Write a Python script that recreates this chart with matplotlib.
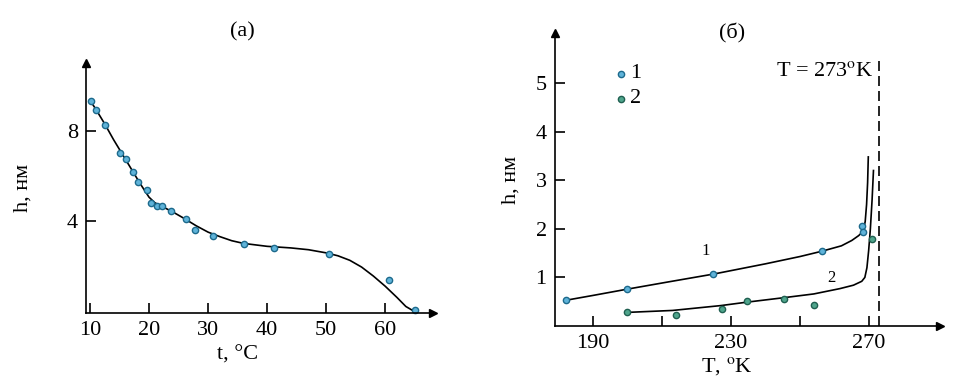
#!/usr/bin/env python3
"""Two panels: film thickness h vs temperature, (a) in deg C and (б) in deg K."""

import matplotlib

matplotlib.use("Agg")
import matplotlib.pyplot as plt

# panel (a): measured points
t_pts = [10.1, 11.0, 12.5, 15.1, 16.1, 17.2, 18.1, 19.6, 20.3, 21.3, 22.2, 23.7,
         26.3, 27.8, 30.9, 36.0, 41.2, 50.4, 60.7, 65.0]
h_pts = [9.30, 8.90, 8.24, 7.00, 6.76, 6.19, 5.72, 5.35, 4.81, 4.64, 4.67, 4.46,
         4.07, 3.60, 3.33, 2.99, 2.81, 2.52, 1.38, 0.04]

# panel (a): fitted curve
t_fit = [10.0, 11.0, 12.5, 14.0, 15.5, 17.0, 18.5, 20.0, 21.0, 22.5, 24.0, 26.0,
         28.0, 30.0, 32.0, 34.0, 36.0, 40.0, 44.0, 47.0, 50.0, 52.0, 54.0, 56.0,
         58.0, 60.0, 62.0, 63.5, 64.8]
h_fit = [9.35, 8.95, 8.30, 7.60, 6.95, 6.30, 5.65, 5.05, 4.80, 4.60, 4.40, 4.10,
         3.78, 3.50, 3.30, 3.12, 3.00, 2.87, 2.80, 2.72, 2.58, 2.45, 2.25, 1.95,
         1.55, 1.10, 0.60, 0.20, 0.00]

# panel (б): series 1 and 2 points
T1_pts = [182.1, 199.9, 224.8, 256.4, 268.1, 268.3]
h1_pts = [0.53, 0.755, 1.07, 1.54, 2.05, 1.94]
T2_pts = [199.9, 213.9, 227.4, 234.5, 245.3, 254.1, 270.9]
h2_pts = [0.28, 0.23, 0.36, 0.51, 0.56, 0.43, 1.79]

# panel (б): fitted curves
T1_fit = [182.1, 190.0, 200.0, 212.0, 225.0, 240.0, 250.0, 256.4, 262.0, 265.0,
          267.0, 268.3, 268.9, 269.3, 269.6, 269.8]
h1_fit = [0.53, 0.63, 0.76, 0.91, 1.07, 1.28, 1.43, 1.54, 1.65, 1.76,
          1.86, 1.95, 2.15, 2.50, 2.95, 3.48]
T2_fit = [199.9, 213.0, 227.0, 234.5, 245.0, 254.0, 261.6, 265.5, 267.9, 268.8,
          269.4, 269.9, 270.4, 270.9, 271.3]
h2_fit = [0.28, 0.32, 0.42, 0.49, 0.58, 0.66, 0.77, 0.84, 0.92, 1.00,
          1.20, 1.55, 2.00, 2.60, 3.20]

T_melt = 273

SERIF = ["Liberation Serif", "DejaVu Serif"]
FS = 16
C1_FACE, C1_EDGE = "#5fb3d9", "#1d6a8c"
C2_FACE, C2_EDGE = "#4fa58c", "#1f5f50"

plt.rcParams["font.family"] = SERIF
plt.rcParams["font.size"] = FS
plt.rcParams["mathtext.fontset"] = "stix"


def style_axes(ax):
    for side in ("top", "right"):
        ax.spines[side].set_visible(False)
    for side in ("left", "bottom"):
        ax.spines[side].set_linewidth(1.2)
    ax.tick_params(direction="in", length=7, width=1.2, pad=6, labelsize=FS)
    ax.tick_params(which="minor", direction="in", length=7, width=1.2)
    # arrow heads at the ends of the axes
    ax.plot(1, 0, ">k", ms=6, transform=ax.transAxes, clip_on=False)
    ax.plot(0, 1, "^k", ms=6, transform=ax.transAxes, clip_on=False)


fig = plt.figure(figsize=(9.75, 3.82), dpi=100)

# (a)
ax1 = fig.add_axes([0.0887, 0.1806, 0.3554, 0.654])
ax1.plot(t_fit, h_fit, color="black", lw=1.2)
ax1.plot(t_pts, h_pts, "o", ms=4.5, mfc=C1_FACE, mec=C1_EDGE, mew=1.0, clip_on=False)
ax1.set_xlim(9.4, 68.1)
ax1.set_ylim(-0.09, 11.0)
ax1.set_xticks([10, 20, 30, 40, 50, 60])
ax1.set_yticks([4, 8])
style_axes(ax1)
ax1.set_xlabel("t, °C")
ax1.xaxis.set_label_coords(0.437, -0.13)
ax1.set_ylabel("h, нм")
ax1.yaxis.set_label_coords(-0.155, 0.5)
fig.text(242 / 975, 1 - 32 / 382, "(а)", ha="center", va="center", fontsize=FS)

# (б)
ax2 = fig.add_axes([0.5692, 0.1466, 0.3949, 0.767])
ax2.plot(T1_fit, h1_fit, color="black", lw=1.2)
ax2.plot(T2_fit, h2_fit, color="black", lw=1.2)
ax2.plot(T1_pts, h1_pts, "o", ms=4.5, mfc=C1_FACE, mec=C1_EDGE, mew=1.0)
ax2.plot(T2_pts, h2_pts, "o", ms=4.5, mfc=C2_FACE, mec=C2_EDGE, mew=1.0)
ax2.plot([T_melt, T_melt], [0, 5.47], color="black", lw=1.2, ls=(0, (6, 3)))
ax2.text(271.3, 5.23, "T = 273$^{\\mathrm{o}}$K", ha="right", va="center", fontsize=FS)
ax2.text(222.7, 1.55, "1", ha="center", va="center", fontsize=12)
ax2.text(259.1, 0.99, "2", ha="center", va="center", fontsize=12)

# hand-drawn legend
ax2.plot([198.2], [5.19], "o", ms=4.5, mfc=C1_FACE, mec=C1_EDGE, mew=1.0)
ax2.plot([198.2], [4.68], "o", ms=4.5, mfc=C2_FACE, mec=C2_EDGE, mew=1.0)
ax2.text(200.8, 5.19, "1", ha="left", va="center", fontsize=FS)
ax2.text(200.8, 4.68, "2", ha="left", va="center", fontsize=FS)

ax2.set_xlim(178.9, 290.6)
ax2.set_ylim(0, 6.03)
ax2.set_xticks([190, 230, 270])
ax2.set_xticks([210, 250], minor=True)
ax2.set_yticks([1, 2, 3, 4, 5])
style_axes(ax2)
ax2.set_xlabel("T, $^{\\mathrm{o}}$K")
ax2.xaxis.set_label_coords(0.447, -0.1)
ax2.set_ylabel("h, нм")
ax2.yaxis.set_label_coords(-0.09, 0.5)
fig.text(732 / 975, 1 - 33 / 382, "(б)", ha="center", va="center", fontsize=FS)

fig.savefig("out.png", dpi=100)
